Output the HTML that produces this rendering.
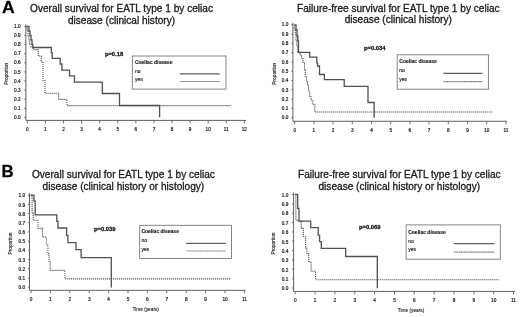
<!DOCTYPE html>
<html><head><meta charset="utf-8"><title>EATL survival curves</title>
<style>
html,body{margin:0;padding:0;background:#fff;}
body{width:520px;height:317px;overflow:hidden;}
svg text{stroke:#1a1a1a;stroke-width:0.3px;stroke-linejoin:round;}
svg{display:block;filter:grayscale(1);font-family:"Liberation Sans", sans-serif;}
</style></head><body>
<svg width="520" height="317" viewBox="0 0 520 317">
<rect width="520" height="317" fill="#fff"/>
<text transform="translate(2.1,12.6) scale(1.1,1)" font-size="16" font-weight="bold" fill="#000">A</text>
<text transform="translate(1.6,176.9) scale(1.05,1)" font-size="16" font-weight="bold" fill="#000">B</text>
<g><text x="121.5" y="12" font-size="10.1" text-anchor="middle" fill="#1a1a1a">Overall survival for EATL type 1 by celiac</text>
<text x="121.5" y="23.6" font-size="10.1" text-anchor="middle" fill="#1a1a1a">disease (clinical history)</text>
<path d="M25.85,24.3 V120.4 H246" fill="none" stroke="#606060" stroke-width="1"/>
<text x="20.6" y="119.08" font-size="4.7" text-anchor="end" fill="#1a1a1a" style="stroke-width:0.2px">0.0</text>
<text x="20.6" y="109.98" font-size="4.7" text-anchor="end" fill="#1a1a1a" style="stroke-width:0.2px">0.1</text>
<text x="20.6" y="100.88" font-size="4.7" text-anchor="end" fill="#1a1a1a" style="stroke-width:0.2px">0.2</text>
<text x="20.6" y="91.78" font-size="4.7" text-anchor="end" fill="#1a1a1a" style="stroke-width:0.2px">0.3</text>
<text x="20.6" y="82.68" font-size="4.7" text-anchor="end" fill="#1a1a1a" style="stroke-width:0.2px">0.4</text>
<text x="20.6" y="73.58" font-size="4.7" text-anchor="end" fill="#1a1a1a" style="stroke-width:0.2px">0.5</text>
<text x="20.6" y="64.48" font-size="4.7" text-anchor="end" fill="#1a1a1a" style="stroke-width:0.2px">0.6</text>
<text x="20.6" y="55.38" font-size="4.7" text-anchor="end" fill="#1a1a1a" style="stroke-width:0.2px">0.7</text>
<text x="20.6" y="46.28" font-size="4.7" text-anchor="end" fill="#1a1a1a" style="stroke-width:0.2px">0.8</text>
<text x="20.6" y="37.18" font-size="4.7" text-anchor="end" fill="#1a1a1a" style="stroke-width:0.2px">0.9</text>
<text x="20.6" y="28.08" font-size="4.7" text-anchor="end" fill="#1a1a1a" style="stroke-width:0.2px">1.0</text>
<text x="27.3" y="130.6" font-size="4.7" text-anchor="middle" fill="#1a1a1a" style="stroke-width:0.2px">0</text>
<text x="45.39" y="130.6" font-size="4.7" text-anchor="middle" fill="#1a1a1a" style="stroke-width:0.2px">1</text>
<text x="63.48" y="130.6" font-size="4.7" text-anchor="middle" fill="#1a1a1a" style="stroke-width:0.2px">2</text>
<text x="81.57" y="130.6" font-size="4.7" text-anchor="middle" fill="#1a1a1a" style="stroke-width:0.2px">3</text>
<text x="99.66" y="130.6" font-size="4.7" text-anchor="middle" fill="#1a1a1a" style="stroke-width:0.2px">4</text>
<text x="117.75" y="130.6" font-size="4.7" text-anchor="middle" fill="#1a1a1a" style="stroke-width:0.2px">5</text>
<text x="135.84" y="130.6" font-size="4.7" text-anchor="middle" fill="#1a1a1a" style="stroke-width:0.2px">6</text>
<text x="153.93" y="130.6" font-size="4.7" text-anchor="middle" fill="#1a1a1a" style="stroke-width:0.2px">7</text>
<text x="172.02" y="130.6" font-size="4.7" text-anchor="middle" fill="#1a1a1a" style="stroke-width:0.2px">8</text>
<text x="190.11" y="130.6" font-size="4.7" text-anchor="middle" fill="#1a1a1a" style="stroke-width:0.2px">9</text>
<text x="208.2" y="130.6" font-size="4.7" text-anchor="middle" fill="#1a1a1a" style="stroke-width:0.2px">10</text>
<text x="226.29" y="130.6" font-size="4.7" text-anchor="middle" fill="#1a1a1a" style="stroke-width:0.2px">11</text>
<text x="244.38" y="130.6" font-size="4.7" text-anchor="middle" fill="#1a1a1a" style="stroke-width:0.2px">12</text>
<path d="M24.25,117.4 H25.85 M24.25,108.3 H25.85 M24.25,99.2 H25.85 M24.25,90.1 H25.85 M24.25,81 H25.85 M24.25,71.9 H25.85 M24.25,62.8 H25.85 M24.25,53.7 H25.85 M24.25,44.6 H25.85 M24.25,35.5 H25.85 M24.25,26.4 H25.85 M27.3,120.4 V123.4 M45.39,120.4 V123.4 M63.48,120.4 V123.4 M81.57,120.4 V123.4 M99.66,120.4 V123.4 M117.75,120.4 V123.4 M135.84,120.4 V123.4 M153.93,120.4 V123.4 M172.02,120.4 V123.4 M190.11,120.4 V123.4 M208.2,120.4 V123.4 M226.29,120.4 V123.4 M244.38,120.4 V123.4" fill="none" stroke="#606060" stroke-width="0.9"/>
<text transform="translate(5.9,73.8) rotate(-90)" font-size="4.75" text-anchor="middle" fill="#1a1a1a" style="stroke-width:0.1px" dy="1.7">Proportion</text>
<text x="104.9" y="55.5" font-size="5.8" font-weight="bold" fill="#1a1a1a">p=0.18</text>
<rect x="132.3" y="56" width="93.7" height="33.1" fill="#fff" stroke="#777" stroke-width="0.9"/>
<path d="M179.9,73.9 H219.7" stroke="#606060" stroke-width="1.2"/>
<path d="M179.9,81.5 H219.7" stroke="#7a7a7a" stroke-width="1.1" stroke-dasharray="1.3,0.4"/>
<text x="134.9" y="64" font-size="5" font-weight="bold" fill="#1a1a1a" style="stroke-width:0.15px">Coeliac disease</text>
<text x="134.9" y="72.9" font-size="5" fill="#1a1a1a" style="stroke-width:0.15px">no</text>
<text x="134.9" y="81.2" font-size="5" fill="#1a1a1a" style="stroke-width:0.15px">yes</text>
<path d="M26.5,26.4 V28 H27.4 V31 H28.1 V35.5 H28.8 V40 H29.6 V44.5 H31 V47 H33 V49.6 H38.2 V56 H41.2 V61.8 H43 V80.6 H45 V93.3 H58.7 V99.4 H67 V105.6 H231" fill="none" stroke="#5a5a5a" stroke-width="1.1" stroke-dasharray="1.2,0.8"/>
<path d="M26.5,26.4 H29 V31 H30 V35.5 H31 V40 H32 V44.5 H32.8 V47.5 H51.3 V52.6 H52.2 V58.3 H60.2 V64 H61.9 V70.1 H69.5 V75.8 H74.5 V82.1 H102.3 V93.5 H119.5 V105.5 H159.6 V117.3" fill="none" stroke="#505050" stroke-width="1.3"/></g>
<g><text x="398.3" y="11.7" font-size="10.1" text-anchor="middle" fill="#1a1a1a">Failure-free survival for EATL type 1 by celiac</text>
<text x="398.3" y="23.2" font-size="10.1" text-anchor="middle" fill="#1a1a1a">disease (clinical history)</text>
<path d="M292.9,22.8 V121.25 H507" fill="none" stroke="#606060" stroke-width="1"/>
<text x="288.35" y="119.38" font-size="4.7" text-anchor="end" fill="#1a1a1a" style="stroke-width:0.2px">0.0</text>
<text x="288.35" y="110.09" font-size="4.7" text-anchor="end" fill="#1a1a1a" style="stroke-width:0.2px">0.1</text>
<text x="288.35" y="100.8" font-size="4.7" text-anchor="end" fill="#1a1a1a" style="stroke-width:0.2px">0.2</text>
<text x="288.35" y="91.51" font-size="4.7" text-anchor="end" fill="#1a1a1a" style="stroke-width:0.2px">0.3</text>
<text x="288.35" y="82.22" font-size="4.7" text-anchor="end" fill="#1a1a1a" style="stroke-width:0.2px">0.4</text>
<text x="288.35" y="72.93" font-size="4.7" text-anchor="end" fill="#1a1a1a" style="stroke-width:0.2px">0.5</text>
<text x="288.35" y="63.64" font-size="4.7" text-anchor="end" fill="#1a1a1a" style="stroke-width:0.2px">0.6</text>
<text x="288.35" y="54.35" font-size="4.7" text-anchor="end" fill="#1a1a1a" style="stroke-width:0.2px">0.7</text>
<text x="288.35" y="45.06" font-size="4.7" text-anchor="end" fill="#1a1a1a" style="stroke-width:0.2px">0.8</text>
<text x="288.35" y="35.77" font-size="4.7" text-anchor="end" fill="#1a1a1a" style="stroke-width:0.2px">0.9</text>
<text x="288.35" y="26.48" font-size="4.7" text-anchor="end" fill="#1a1a1a" style="stroke-width:0.2px">1.0</text>
<text x="294.7" y="131.5" font-size="4.7" text-anchor="middle" fill="#1a1a1a" style="stroke-width:0.2px">0</text>
<text x="313.9" y="131.5" font-size="4.7" text-anchor="middle" fill="#1a1a1a" style="stroke-width:0.2px">1</text>
<text x="333.1" y="131.5" font-size="4.7" text-anchor="middle" fill="#1a1a1a" style="stroke-width:0.2px">2</text>
<text x="352.3" y="131.5" font-size="4.7" text-anchor="middle" fill="#1a1a1a" style="stroke-width:0.2px">3</text>
<text x="371.5" y="131.5" font-size="4.7" text-anchor="middle" fill="#1a1a1a" style="stroke-width:0.2px">4</text>
<text x="390.7" y="131.5" font-size="4.7" text-anchor="middle" fill="#1a1a1a" style="stroke-width:0.2px">5</text>
<text x="409.9" y="131.5" font-size="4.7" text-anchor="middle" fill="#1a1a1a" style="stroke-width:0.2px">6</text>
<text x="429.1" y="131.5" font-size="4.7" text-anchor="middle" fill="#1a1a1a" style="stroke-width:0.2px">7</text>
<text x="448.3" y="131.5" font-size="4.7" text-anchor="middle" fill="#1a1a1a" style="stroke-width:0.2px">8</text>
<text x="467.5" y="131.5" font-size="4.7" text-anchor="middle" fill="#1a1a1a" style="stroke-width:0.2px">9</text>
<text x="486.7" y="131.5" font-size="4.7" text-anchor="middle" fill="#1a1a1a" style="stroke-width:0.2px">10</text>
<text x="505.9" y="131.5" font-size="4.7" text-anchor="middle" fill="#1a1a1a" style="stroke-width:0.2px">11</text>
<path d="M291.3,117.7 H292.9 M291.3,108.41 H292.9 M291.3,99.12 H292.9 M291.3,89.83 H292.9 M291.3,80.54 H292.9 M291.3,71.25 H292.9 M291.3,61.96 H292.9 M291.3,52.67 H292.9 M291.3,43.38 H292.9 M291.3,34.09 H292.9 M291.3,24.8 H292.9 M294.7,121.25 V124.25 M313.9,121.25 V124.25 M333.1,121.25 V124.25 M352.3,121.25 V124.25 M371.5,121.25 V124.25 M390.7,121.25 V124.25 M409.9,121.25 V124.25 M429.1,121.25 V124.25 M448.3,121.25 V124.25 M467.5,121.25 V124.25 M486.7,121.25 V124.25 M505.9,121.25 V124.25" fill="none" stroke="#606060" stroke-width="0.9"/>
<text transform="translate(274,73.7) rotate(-90)" font-size="4.75" text-anchor="middle" fill="#1a1a1a" style="stroke-width:0.1px" dy="1.7">Proportion</text>
<text x="364" y="50.3" font-size="5.8" font-weight="bold" fill="#1a1a1a">p=0.034</text>
<rect x="397.2" y="54.8" width="91.2" height="34.4" fill="#fff" stroke="#777" stroke-width="0.9"/>
<path d="M443.4,73.4 H482.5" stroke="#606060" stroke-width="1.2"/>
<path d="M443.4,81.6 H482.5" stroke="#7a7a7a" stroke-width="1.1" stroke-dasharray="1.3,0.4"/>
<text x="399.3" y="63" font-size="5" font-weight="bold" fill="#1a1a1a" style="stroke-width:0.15px">Coeliac disease</text>
<text x="399.3" y="72.2" font-size="5" fill="#1a1a1a" style="stroke-width:0.15px">no</text>
<text x="399.3" y="80.9" font-size="5" fill="#1a1a1a" style="stroke-width:0.15px">yes</text>
<path d="M294.3,24.8 V29 H295.3 V34 H296 V40 H296.8 V46 H297.8 V52.2 H300 V55 H301.5 V58 H303 V62.5 H304.5 V70 H305.3 V77 H306.5 V81 H307.5 V85.5 H308.5 V91 H309.6 V96 H311 V100 H312.7 V104.3 H314.8 V112 H492.7" fill="none" stroke="#5a5a5a" stroke-width="1.1" stroke-dasharray="1.2,0.8"/>
<path d="M294.3,24.8 H296 V30 H297 V36 H297.8 V41 H298.5 V52.4 H309.7 V57.2 H316.8 V62.8 H317.5 V66 H319.5 V74.5 H324.4 V79.6 H344.2 V86.3 H368 V102.5 H374.1 V117.7" fill="none" stroke="#505050" stroke-width="1.3"/></g>
<g><text x="123.4" y="178.1" font-size="10.1" text-anchor="middle" fill="#1a1a1a">Overall survival for EATL type 1 by celiac</text>
<text x="123.4" y="190" font-size="10.1" text-anchor="middle" fill="#1a1a1a">disease (clinical history or histology)</text>
<path d="M29.5,193.2 V290.3 H245.6" fill="none" stroke="#606060" stroke-width="1"/>
<text x="25.15" y="289.18" font-size="4.7" text-anchor="end" fill="#1a1a1a" style="stroke-width:0.2px">0.0</text>
<text x="25.15" y="280" font-size="4.7" text-anchor="end" fill="#1a1a1a" style="stroke-width:0.2px">0.1</text>
<text x="25.15" y="270.82" font-size="4.7" text-anchor="end" fill="#1a1a1a" style="stroke-width:0.2px">0.2</text>
<text x="25.15" y="261.64" font-size="4.7" text-anchor="end" fill="#1a1a1a" style="stroke-width:0.2px">0.3</text>
<text x="25.15" y="252.46" font-size="4.7" text-anchor="end" fill="#1a1a1a" style="stroke-width:0.2px">0.4</text>
<text x="25.15" y="243.28" font-size="4.7" text-anchor="end" fill="#1a1a1a" style="stroke-width:0.2px">0.5</text>
<text x="25.15" y="234.1" font-size="4.7" text-anchor="end" fill="#1a1a1a" style="stroke-width:0.2px">0.6</text>
<text x="25.15" y="224.92" font-size="4.7" text-anchor="end" fill="#1a1a1a" style="stroke-width:0.2px">0.7</text>
<text x="25.15" y="215.74" font-size="4.7" text-anchor="end" fill="#1a1a1a" style="stroke-width:0.2px">0.8</text>
<text x="25.15" y="206.56" font-size="4.7" text-anchor="end" fill="#1a1a1a" style="stroke-width:0.2px">0.9</text>
<text x="25.15" y="197.38" font-size="4.7" text-anchor="end" fill="#1a1a1a" style="stroke-width:0.2px">1.0</text>
<text x="31" y="300.5" font-size="4.7" text-anchor="middle" fill="#1a1a1a" style="stroke-width:0.2px">0</text>
<text x="50.4" y="300.5" font-size="4.7" text-anchor="middle" fill="#1a1a1a" style="stroke-width:0.2px">1</text>
<text x="69.8" y="300.5" font-size="4.7" text-anchor="middle" fill="#1a1a1a" style="stroke-width:0.2px">2</text>
<text x="89.2" y="300.5" font-size="4.7" text-anchor="middle" fill="#1a1a1a" style="stroke-width:0.2px">3</text>
<text x="108.6" y="300.5" font-size="4.7" text-anchor="middle" fill="#1a1a1a" style="stroke-width:0.2px">4</text>
<text x="128" y="300.5" font-size="4.7" text-anchor="middle" fill="#1a1a1a" style="stroke-width:0.2px">5</text>
<text x="147.4" y="300.5" font-size="4.7" text-anchor="middle" fill="#1a1a1a" style="stroke-width:0.2px">6</text>
<text x="166.8" y="300.5" font-size="4.7" text-anchor="middle" fill="#1a1a1a" style="stroke-width:0.2px">7</text>
<text x="186.2" y="300.5" font-size="4.7" text-anchor="middle" fill="#1a1a1a" style="stroke-width:0.2px">8</text>
<text x="205.6" y="300.5" font-size="4.7" text-anchor="middle" fill="#1a1a1a" style="stroke-width:0.2px">9</text>
<text x="225" y="300.5" font-size="4.7" text-anchor="middle" fill="#1a1a1a" style="stroke-width:0.2px">10</text>
<text x="244.4" y="300.5" font-size="4.7" text-anchor="middle" fill="#1a1a1a" style="stroke-width:0.2px">11</text>
<path d="M27.9,287 H29.5 M27.9,277.82 H29.5 M27.9,268.64 H29.5 M27.9,259.46 H29.5 M27.9,250.28 H29.5 M27.9,241.1 H29.5 M27.9,231.92 H29.5 M27.9,222.74 H29.5 M27.9,213.56 H29.5 M27.9,204.38 H29.5 M27.9,195.2 H29.5 M31,290.3 V293.3 M50.4,290.3 V293.3 M69.8,290.3 V293.3 M89.2,290.3 V293.3 M108.6,290.3 V293.3 M128,290.3 V293.3 M147.4,290.3 V293.3 M166.8,290.3 V293.3 M186.2,290.3 V293.3 M205.6,290.3 V293.3 M225,290.3 V293.3 M244.4,290.3 V293.3" fill="none" stroke="#606060" stroke-width="0.9"/>
<text transform="translate(9.8,243.5) rotate(-90)" font-size="4.75" text-anchor="middle" fill="#1a1a1a" style="stroke-width:0.1px" dy="1.7">Proportion</text>
<text x="145.7" y="310.9" font-size="4.75" text-anchor="middle" fill="#1a1a1a" style="stroke-width:0.1px">Time (years)</text>
<text x="94" y="230.75" font-size="5.8" font-weight="bold" fill="#1a1a1a">p=0.039</text>
<rect x="139.7" y="225.3" width="91.8" height="33.1" fill="#fff" stroke="#777" stroke-width="0.9"/>
<path d="M186.2,243.4 H225.7" stroke="#606060" stroke-width="1.2"/>
<path d="M186.2,251 H225.7" stroke="#7a7a7a" stroke-width="1.1" stroke-dasharray="1.3,0.4"/>
<text x="141.4" y="233" font-size="5" font-weight="bold" fill="#1a1a1a" style="stroke-width:0.15px">Coeliac disease</text>
<text x="141.4" y="242.2" font-size="5" fill="#1a1a1a" style="stroke-width:0.15px">no</text>
<text x="141.4" y="250.9" font-size="5" fill="#1a1a1a" style="stroke-width:0.15px">yes</text>
<path d="M30.6,195.2 H32.1 V213.4 H33.1 V220.3 H37.9 V228.4 H42.5 V237 H46.4 V245 H47.9 V253.7 H49 V261.5 H50.2 V270.4 H64.9 V278.9 H231.1" fill="none" stroke="#5a5a5a" stroke-width="1.1" stroke-dasharray="1.2,0.8"/>
<path d="M30.6,195.2 H34 V201.1 H35.2 V214.8 H56.8 V221.4 H58 V228 H66.6 V235.4 H67.9 V242.6 H76 V249.7 H81.1 V257.7 H111.3 V287.5" fill="none" stroke="#505050" stroke-width="1.3"/></g>
<g><text x="399.3" y="178.1" font-size="10.1" text-anchor="middle" fill="#1a1a1a">Failure-free survival for EATL type 1 by celiac</text>
<text x="399.3" y="190" font-size="10.1" text-anchor="middle" fill="#1a1a1a">disease (clinical history or histology)</text>
<path d="M293.6,192.5 V291.4 H514.8" fill="none" stroke="#606060" stroke-width="1"/>
<text x="288.25" y="290.28" font-size="4.7" text-anchor="end" fill="#1a1a1a" style="stroke-width:0.2px">0.0</text>
<text x="288.25" y="280.93" font-size="4.7" text-anchor="end" fill="#1a1a1a" style="stroke-width:0.2px">0.1</text>
<text x="288.25" y="271.58" font-size="4.7" text-anchor="end" fill="#1a1a1a" style="stroke-width:0.2px">0.2</text>
<text x="288.25" y="262.23" font-size="4.7" text-anchor="end" fill="#1a1a1a" style="stroke-width:0.2px">0.3</text>
<text x="288.25" y="252.88" font-size="4.7" text-anchor="end" fill="#1a1a1a" style="stroke-width:0.2px">0.4</text>
<text x="288.25" y="243.53" font-size="4.7" text-anchor="end" fill="#1a1a1a" style="stroke-width:0.2px">0.5</text>
<text x="288.25" y="234.18" font-size="4.7" text-anchor="end" fill="#1a1a1a" style="stroke-width:0.2px">0.6</text>
<text x="288.25" y="224.83" font-size="4.7" text-anchor="end" fill="#1a1a1a" style="stroke-width:0.2px">0.7</text>
<text x="288.25" y="215.48" font-size="4.7" text-anchor="end" fill="#1a1a1a" style="stroke-width:0.2px">0.8</text>
<text x="288.25" y="206.13" font-size="4.7" text-anchor="end" fill="#1a1a1a" style="stroke-width:0.2px">0.9</text>
<text x="288.25" y="196.78" font-size="4.7" text-anchor="end" fill="#1a1a1a" style="stroke-width:0.2px">1.0</text>
<text x="295.2" y="302.2" font-size="4.7" text-anchor="middle" fill="#1a1a1a" style="stroke-width:0.2px">0</text>
<text x="315.05" y="302.2" font-size="4.7" text-anchor="middle" fill="#1a1a1a" style="stroke-width:0.2px">1</text>
<text x="334.9" y="302.2" font-size="4.7" text-anchor="middle" fill="#1a1a1a" style="stroke-width:0.2px">2</text>
<text x="354.75" y="302.2" font-size="4.7" text-anchor="middle" fill="#1a1a1a" style="stroke-width:0.2px">3</text>
<text x="374.6" y="302.2" font-size="4.7" text-anchor="middle" fill="#1a1a1a" style="stroke-width:0.2px">4</text>
<text x="394.45" y="302.2" font-size="4.7" text-anchor="middle" fill="#1a1a1a" style="stroke-width:0.2px">5</text>
<text x="414.3" y="302.2" font-size="4.7" text-anchor="middle" fill="#1a1a1a" style="stroke-width:0.2px">6</text>
<text x="434.15" y="302.2" font-size="4.7" text-anchor="middle" fill="#1a1a1a" style="stroke-width:0.2px">7</text>
<text x="454" y="302.2" font-size="4.7" text-anchor="middle" fill="#1a1a1a" style="stroke-width:0.2px">8</text>
<text x="473.85" y="302.2" font-size="4.7" text-anchor="middle" fill="#1a1a1a" style="stroke-width:0.2px">9</text>
<text x="493.7" y="302.2" font-size="4.7" text-anchor="middle" fill="#1a1a1a" style="stroke-width:0.2px">10</text>
<text x="513.55" y="302.2" font-size="4.7" text-anchor="middle" fill="#1a1a1a" style="stroke-width:0.2px">11</text>
<path d="M292,288 H293.6 M292,278.65 H293.6 M292,269.3 H293.6 M292,259.95 H293.6 M292,250.6 H293.6 M292,241.25 H293.6 M292,231.9 H293.6 M292,222.55 H293.6 M292,213.2 H293.6 M292,203.85 H293.6 M292,194.5 H293.6 M295.2,291.4 V294.4 M315.05,291.4 V294.4 M334.9,291.4 V294.4 M354.75,291.4 V294.4 M374.6,291.4 V294.4 M394.45,291.4 V294.4 M414.3,291.4 V294.4 M434.15,291.4 V294.4 M454,291.4 V294.4 M473.85,291.4 V294.4 M493.7,291.4 V294.4 M513.55,291.4 V294.4" fill="none" stroke="#606060" stroke-width="0.9"/>
<text transform="translate(273.1,243.5) rotate(-90)" font-size="4.75" text-anchor="middle" fill="#1a1a1a" style="stroke-width:0.1px" dy="1.7">Proportion</text>
<text x="411" y="311.8" font-size="4.75" text-anchor="middle" fill="#1a1a1a" style="stroke-width:0.1px">Time (years)</text>
<text x="359" y="228.5" font-size="5.8" font-weight="bold" fill="#1a1a1a">p=0.069</text>
<rect x="406.1" y="224.9" width="94.2" height="34.3" fill="#fff" stroke="#777" stroke-width="0.9"/>
<path d="M453.9,243.7 H494.4" stroke="#606060" stroke-width="1.2"/>
<path d="M453.9,252.1 H494.4" stroke="#7a7a7a" stroke-width="1.1" stroke-dasharray="1.3,0.4"/>
<text x="408.2" y="233.5" font-size="5" font-weight="bold" fill="#1a1a1a" style="stroke-width:0.15px">Coeliac disease</text>
<text x="408.2" y="242.55" font-size="5" fill="#1a1a1a" style="stroke-width:0.15px">no</text>
<text x="408.2" y="251.2" font-size="5" fill="#1a1a1a" style="stroke-width:0.15px">yes</text>
<path d="M294.9,194.5 H295.9 V219.8 H297.5 V221 H301.2 V228.1 H303.3 V236.8 H305.6 V247.9 H306.9 V253.7 H308.7 V262 H311.1 V271.3 H315.6 V279.8 H499.2" fill="none" stroke="#5a5a5a" stroke-width="1.1" stroke-dasharray="1.2,0.8"/>
<path d="M294.9,194.5 H297.7 V208.4 H299 V221.1 H310.7 V227.7 H318.2 V235.2 H319.6 V241.6 H321.3 V248.3 H345.7 V256.5 H377.3 V288.3" fill="none" stroke="#505050" stroke-width="1.3"/></g>
</svg>
</body></html>
